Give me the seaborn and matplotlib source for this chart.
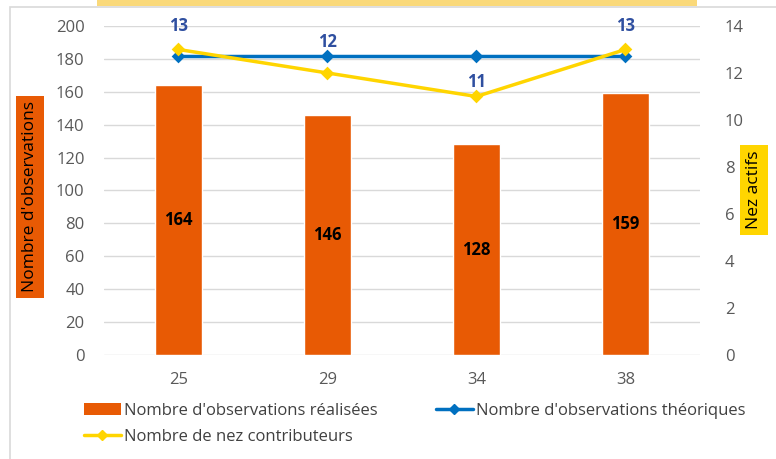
import matplotlib
matplotlib.use("Agg")
import matplotlib.pyplot as plt
from matplotlib.patches import Rectangle
from matplotlib.lines import Line2D
from matplotlib.patches import Patch
import seaborn as sns

# Data
semaines = ["25", "29", "34", "38"]
obs_realisees = [164, 146, 128, 159]
obs_theoriques = [182, 182, 182, 182]
nez_contributeurs = [13, 12, 11, 13]
label_offsets = [23, 31, 14, 23]  # pixels above the yellow point

ORANGE = "#E85A04"
BLUE = "#0070C0"
YELLOW = "#FFD500"
LABEL_BLUE = "#2F4FA0"
GRAY_TXT = "#595959"

sns.set_theme(style="white")
plt.rcParams["font.family"] = ["Open Sans", "DejaVu Sans"]

fig = plt.figure(figsize=(7.76, 4.59), dpi=100)
ax = fig.add_axes([0.134, 0.2266, 0.768, 0.7168])

# frame and the top strip of the title box
fig.patches.append(Rectangle((10 / 776, -0.1), 1.2, 1 - 7 / 459 + 0.1, transform=fig.transFigure,
                             fill=False, edgecolor="#D9D9D9", linewidth=1.2, zorder=0))
fig.patches.append(Rectangle((97 / 776, 1 - 6 / 459), 600 / 776, 6 / 459, transform=fig.transFigure,
                             facecolor="#FAD97A", edgecolor="none", zorder=0))

sns.barplot(x=semaines, y=obs_realisees, color=ORANGE, saturation=1, width=0.32, ax=ax, zorder=2)
ax.bar_label(ax.containers[0], label_type="center", fontsize=12, fontweight="bold", color="black")

sns.pointplot(x=semaines, y=obs_theoriques, color=BLUE, markers="D", markersize=5,
              linewidth=2.5, ax=ax, zorder=3)

ax.set_ylim(0, 200)
ax.set_yticks(range(0, 201, 20))
ax.grid(axis="y", color="#D9D9D9", linewidth=1)
ax.set_axisbelow(True)
for s in ax.spines.values():
    s.set_visible(False)
ax.tick_params(axis="y", length=0, labelsize=12, colors=GRAY_TXT, pad=14)
ax.tick_params(axis="x", length=0, labelsize=12, colors=GRAY_TXT, pad=12)
ax.set_xlabel("")
ax.set_ylabel("")

ax2 = ax.twinx()
sns.pointplot(x=semaines, y=nez_contributeurs, color=YELLOW, markers="D", markersize=5,
              linewidth=2.5, ax=ax2, zorder=4)
ax2.set_ylim(0, 14)
ax2.set_yticks(range(0, 15, 2))
for s in ax2.spines.values():
    s.set_visible(False)
ax2.tick_params(axis="y", length=0, labelsize=12, colors=GRAY_TXT, pad=18)
ax2.set_ylabel("")
ax2.set_xlabel("")

for i, (v, off) in enumerate(zip(nez_contributeurs, label_offsets)):
    ax2.annotate(str(v), (i, v), xytext=(0, off), textcoords="offset pixels",
                 ha="center", va="center", fontsize=12, fontweight="bold", color=LABEL_BLUE)

# axis titles with colored boxes
fig.text(30 / 776, 1 - 197 / 459, "Nombre d'observations", rotation=90, ha="center", va="center",
         fontsize=12.5, color="black", bbox=dict(facecolor=ORANGE, edgecolor="none", pad=4))
fig.text(754 / 776, 1 - 190 / 459, "Nez actifs", rotation=90, ha="center", va="center",
         fontsize=12.5, color="black", bbox=dict(facecolor=YELLOW, edgecolor="none", pad=4))

h_real = Patch(facecolor=ORANGE, edgecolor="none", label="Nombre d'observations réalisées")
h_theo = Line2D([], [], color=BLUE, linewidth=2.5, marker="D", markersize=5,
                label="Nombre d'observations théoriques")
h_nez = Line2D([], [], color=YELLOW, linewidth=2.5, marker="D", markersize=5,
               label="Nombre de nez contributeurs")
fig.legend(handles=[h_real, h_nez, h_theo], ncol=2, loc="upper left",
           bbox_to_anchor=(69 / 776, 1 - 388 / 459),
           frameon=False, fontsize=12, labelcolor="#404040", handlelength=2.2, handletextpad=0.2,
           columnspacing=3.5, labelspacing=0.6)

fig.savefig("out.png", dpi=100)
